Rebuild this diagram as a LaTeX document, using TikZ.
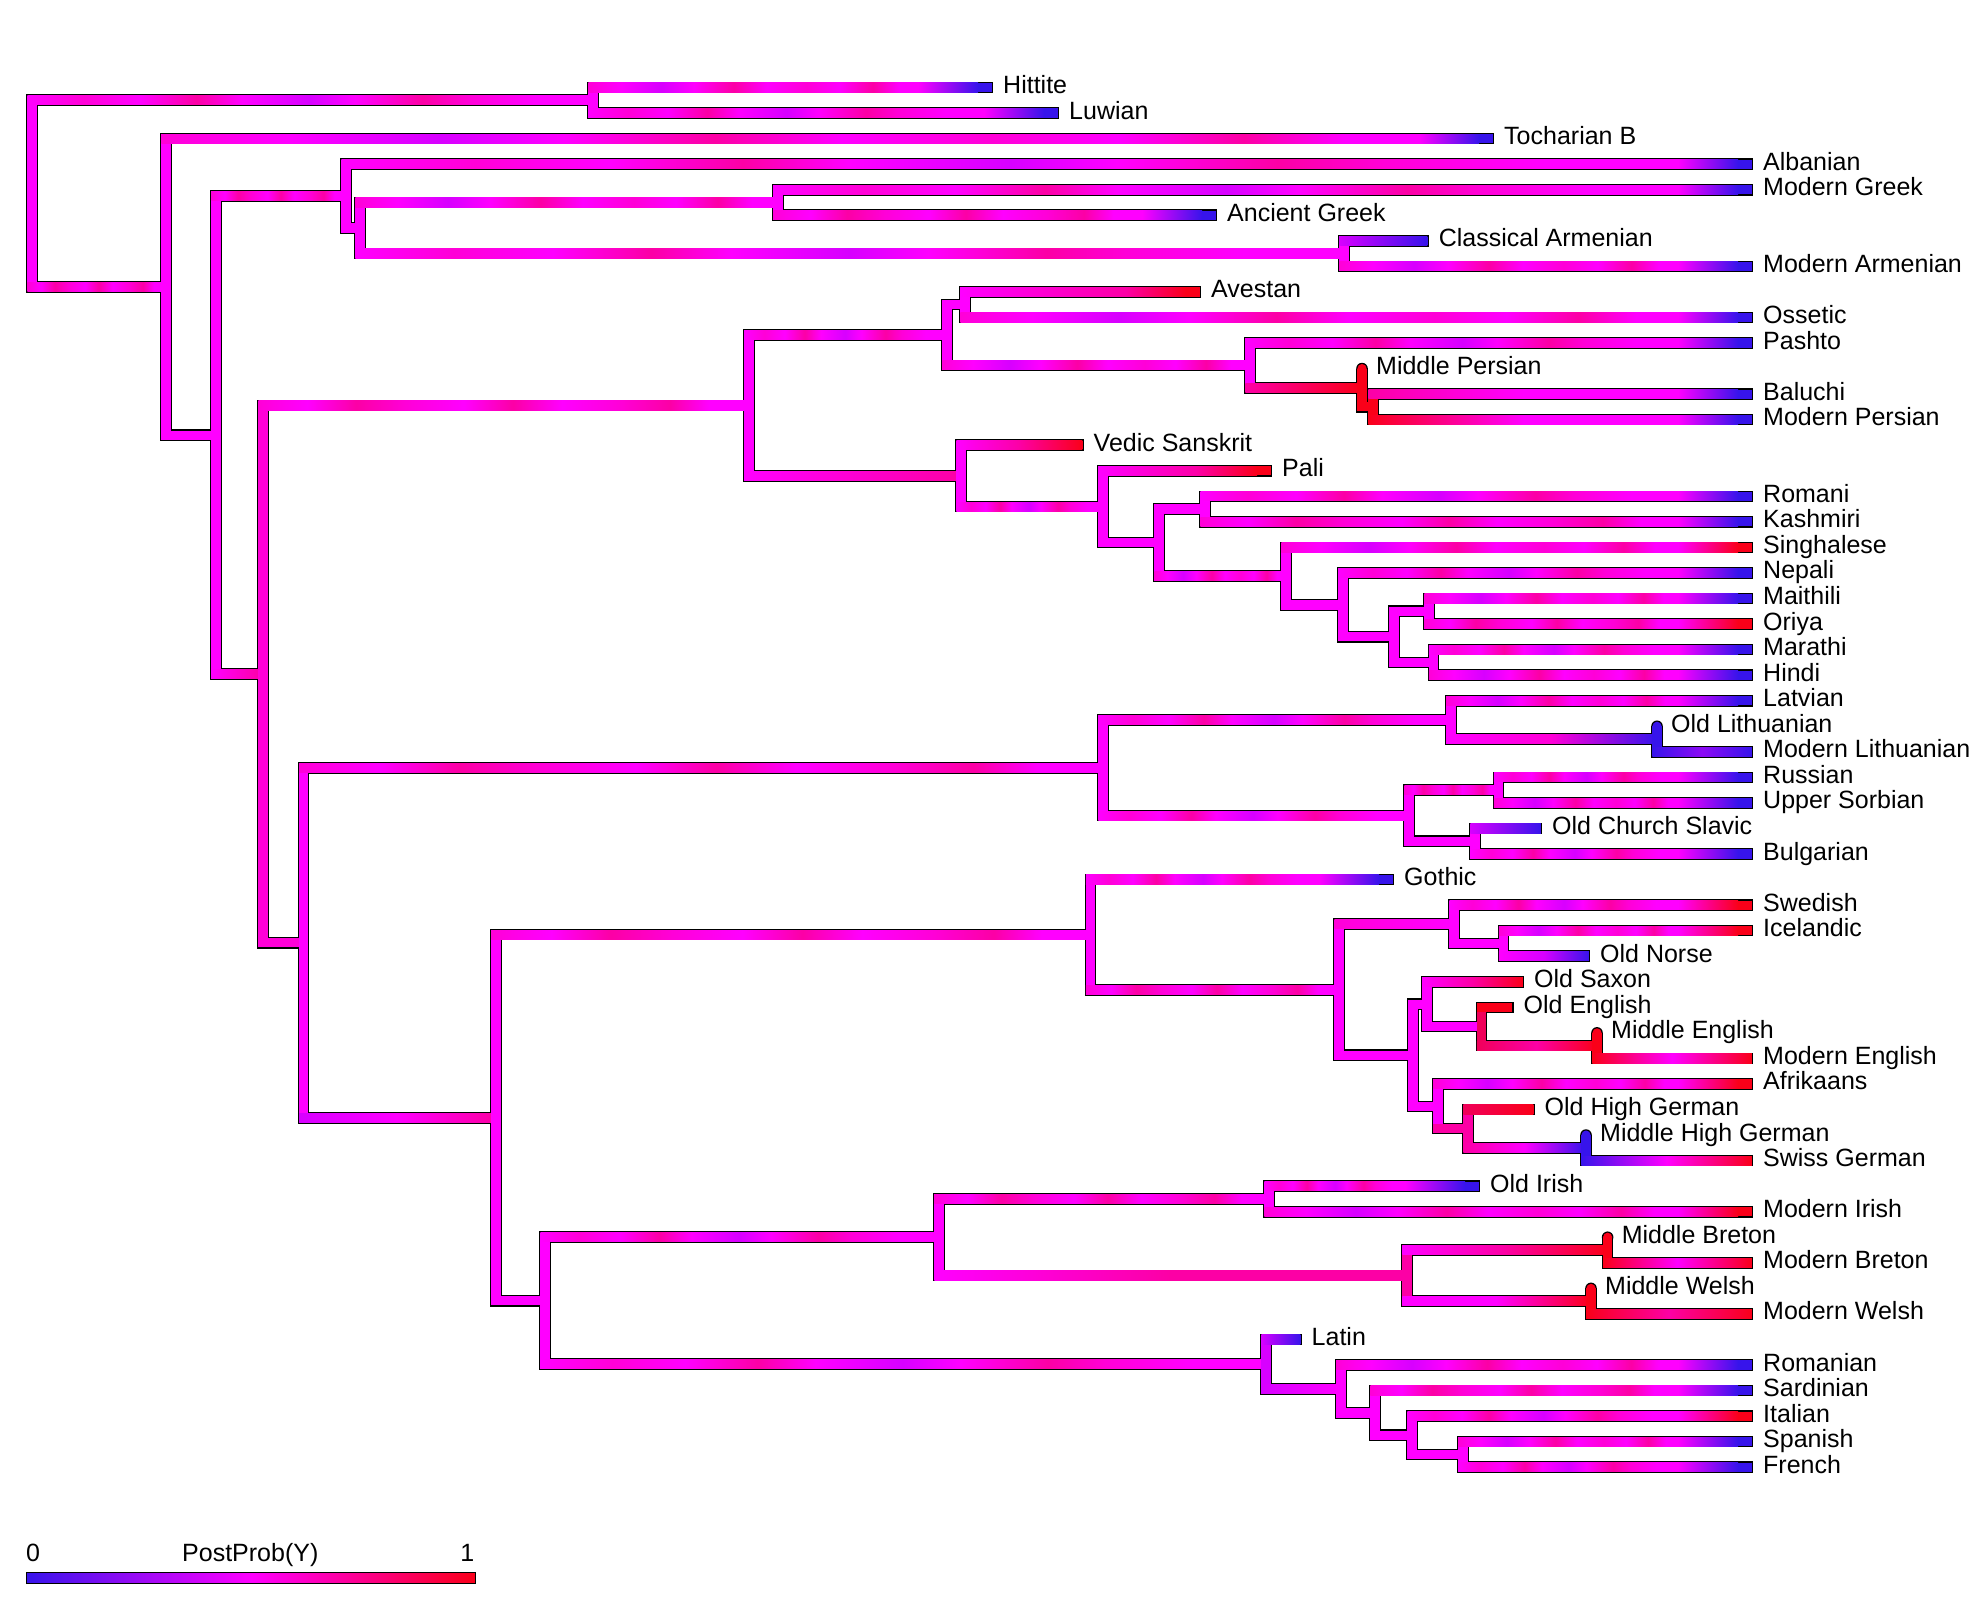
\documentclass[tikz,border=0pt]{standalone}
\usepackage{fontspec}
\setmainfont{Liberation Sans}
\usetikzlibrary{calc}
\pgfdeclarelayer{bg}
\pgfsetlayers{bg,main}
\definecolor{M}{RGB}{255,0,255}
\definecolor{Mp}{RGB}{255,0,215}
\definecolor{P}{RGB}{252,0,165}
\definecolor{V}{RGB}{215,0,255}
\definecolor{Pu}{RGB}{140,10,245}
\definecolor{B}{RGB}{55,20,235}
\definecolor{Rd}{RGB}{250,0,25}
\definecolor{Cr}{RGB}{240,0,90}
\pgfdeclarehorizontalshading{nzA}{100bp}{color(0bp)=(M); color(25bp)=(M); color(30bp)=(Mp); color(35bp)=(M); color(40bp)=(P); color(44bp)=(M); color(50bp)=(V); color(54bp)=(M); color(60bp)=(P); color(64bp)=(Mp); color(70bp)=(M); color(75bp)=(M); color(100bp)=(M)}
\pgfdeclarehorizontalshading{nzB}{100bp}{color(0bp)=(Mp); color(25bp)=(Mp); color(30bp)=(M); color(36bp)=(V); color(41bp)=(M); color(47bp)=(P); color(52bp)=(M); color(58bp)=(Mp); color(63bp)=(M); color(68bp)=(P); color(72bp)=(M); color(75bp)=(M); color(100bp)=(M)}
\pgfdeclarehorizontalshading{nzC}{100bp}{color(0bp)=(Mp); color(25bp)=(Mp); color(30bp)=(M); color(35bp)=(P); color(40bp)=(Mp); color(46bp)=(M); color(51bp)=(P); color(56bp)=(M); color(62bp)=(Mp); color(67bp)=(P); color(71bp)=(M); color(75bp)=(M); color(100bp)=(M)}
\pgfdeclarehorizontalshading{cbar}{100bp}{color(0bp)=(B); color(25bp)=(B); color(50bp)=(M); color(75bp)=(Rd); color(100bp)=(Rd)}
\tikzset{
  sA/.style={shade,shading=nzA},
  sB/.style={shade,shading=nzB},
  sC/.style={shade,shading=nzC},
  lab/.style={anchor=base west,inner sep=0pt,text=black,font=\fontsize{25}{30}\selectfont}
}
% horizontal branch: parent, child, colour options
\newcommand\brH[3]{%
  \begin{pgfonlayer}{bg}\fill[black] ($(#1 |- #2)+(-5.8,-5.8)$) rectangle ($(#2)+(0,5.8)$);\end{pgfonlayer}%
  \path[#3] ($(#1 |- #2)+(-4.6,-4.6)$) rectangle ($(#2)+(-1.2,4.6)$);}
% tip branch with coloured end: parent, tip, body options, mid colour, end colour
\newcommand\brT[5]{%
  \begin{pgfonlayer}{bg}\fill[black] ($(#1 |- #2)+(-5.8,-5.8)$) rectangle ($(#2)+(0,5.8)$);\end{pgfonlayer}%
  \path[#3] ($(#1 |- #2)+(-4.6,-4.6)$) rectangle ($(#2)+(-74,4.6)$);
  \path[shade,left color=#4,right color=#5] ($(#2)+(-75,-4.6)$) rectangle ($(#2)+(-15,4.6)$);
  \fill[#5] ($(#2)+(-15.5,-4.6)$) rectangle ($(#2)+(-1.2,4.6)$);}
% vertical connector: node, top child, bottom child, colour
\newcommand\brV[4]{%
  \begin{pgfonlayer}{bg}\fill[black] ($(#1 |- #2)+(-5.8,-5.8)$) rectangle ($(#1 |- #3)+(5.8,5.8)$);\end{pgfonlayer}%
  \fill[#4] ($(#1 |- #2)+(-4.6,-4.6)$) rectangle ($(#1 |- #3)+(4.6,4.6)$);}
% vertical connector with rounded top (sampled ancestor)
\newcommand\brVR[4]{%
  \begin{pgfonlayer}{bg}\fill[black] (#1 |- #2) circle[radius=5.8pt];
  \fill[black] ($(#1 |- #2)+(-5.8,0)$) rectangle ($(#1 |- #3)+(5.8,5.8)$);\end{pgfonlayer}%
  \fill[#4] (#1 |- #2) circle[radius=4.6pt];
  \fill[#4] ($(#1 |- #2)+(-4.6,0)$) rectangle ($(#1 |- #3)+(4.6,4.6)$);}
\begin{document}
\begin{tikzpicture}[x=1pt,y=-1pt]
\begin{pgfonlayer}{bg}\fill[white] (0,0) rectangle (1972,1607);\end{pgfonlayer}
\useasboundingbox (0,0) rectangle (1972,1607);
% internal nodes and tips: name/x/row
\foreach \nm/\xx/\rr in {root/32/4.151123046875, A/593/0.5, N1/166/7.80224609375, N2/216/13.6044921875,
  N3/346/4.25, N5/360/5.5, G/778/4.5, Arm/1344/6.5, N4/263/22.958984375, II/749/12.4453125,
  Ir/947/9.6875, AO/965/8.5, nP/1250/10.875, MPn/1362/11.75, BMP/1373/12.5, In/961/15.203125,
  N7/1103/16.40625, N8/1159/17.8125, RK/1205/16.5, N9/1286/19.125, N10/1343/20.25, N11/1394/21.5,
  MO/1429/20.5, MH/1433.5/22.5, N6/303.6/33.47265625, BS/1103/26.625, Bal/1451/24.75, Lith/1657/25.5,
  Sl/1409/28.5, RU/1498.5/27.5, OB/1475/29.5, GIC/496/40.3203125, Ge/1090.5/33.15625, NWG/1339/35.3125,
  NG/1454/32.75, IcON/1503.5/33.5, WG/1413/37.875, SE/1427/35.875, Eng/1481.5/36.75, ME/1597/37.5,
  G2/1438/39.875, Ger/1468/40.75, MHG/1586/41.5, IC/545/47.484375, Ce/939/45, Iri/1269/43.5,
  Bry/1407/46.5, Bre/1607.6/45.5, Wel/1591/47.5, It/1266/49.96875, R/1341/50.9375, NSIS/1375/51.875,
  NIS/1412/52.75, SF/1463/53.5,
  Hit/993/0, Luw/1059/1, Toc/1494/2, Alb/1753/3, MGr/1753/4, AGr/1217/5, CArm/1428.6/6, MArm/1753/7,
  Ave/1201/8, Oss/1753/9, Pas/1753/10, MidP/1362/11, Balu/1753/12, MPrs/1753/13, Ved/1083.5/14,
  Pali/1272/15, Rom/1753/16, Kas/1753/17, Sin/1753/18, Nep/1753/19, Mai/1753/20, Ori/1753/21,
  Mar/1753/22, Hin/1753/23, Ltv/1753/24, OLit/1657/25, MLit/1753/26, Rus/1753/27, USo/1753/28,
  OCS/1542/29, Bul/1753/30, Got/1394/31, Swe/1753/32, Ice/1753/33, ONo/1590/34, OSa/1524/35,
  OEn/1513.5/36, MidE/1597/37, ModE/1753/38, Afr/1753/39, OHG/1534.5/40, MHGt/1586/41, Swi/1753/42,
  OIr/1480/43, MIr/1753/44, MBr/1607.6/45, ModBr/1753/46, MWe/1591/47, ModWe/1753/48, Ltn/1301.5/49,
  Rmn/1753/50, Sar/1753/51, Ita/1753/52, Spa/1753/53, Fre/1753/54}
  {\coordinate (\nm) at (\xx,{87.5+25.55*\rr});}
% ---- branches ----
\brV{root}{A}{N1}{M}
\brH{root}{A}{sA}
\brV{A}{Hit}{Luw}{M}
\brT{A}{Hit}{sB}{M}{B}
\brT{A}{Luw}{sA}{M}{B}
\brH{root}{N1}{sC}
\brV{N1}{Toc}{N2}{M}
\brT{N1}{Toc}{sB}{M}{B}
\brH{N1}{N2}{fill=M}
\brV{N2}{N3}{N4}{M}
\brH{N2}{N3}{sC}
\brV{N3}{Alb}{N5}{M}
\brT{N3}{Alb}{sA}{M}{B}
\brH{N3}{N5}{fill=M}
\brV{N5}{G}{Arm}{M}
\brH{N5}{G}{sB}
\brV{G}{MGr}{AGr}{M}
\brT{G}{MGr}{sA}{M}{B}
\brT{G}{AGr}{sC}{M}{B}
\brH{N5}{Arm}{sA}
\brV{Arm}{CArm}{MArm}{M}
\brH{Arm}{CArm}{shade,left color=V,right color=B}
\brT{Arm}{MArm}{sB}{M}{B}
\brH{N2}{N4}{shade,left color=M,right color=P}
\brV{N4}{II}{N6}{Mp}
\brH{N4}{II}{sC}
\brV{II}{Ir}{In}{M}
\brH{II}{Ir}{sA}
\brV{Ir}{AO}{nP}{M}
\brH{Ir}{AO}{fill=M}
\brV{AO}{Ave}{Oss}{M}
\brT{AO}{Ave}{shade,left color=M,right color=P}{P}{Rd}
\brT{AO}{Oss}{sB}{M}{B}
\brH{Ir}{nP}{sB}
\brV{nP}{Pas}{MPn}{M}
\brT{nP}{Pas}{sA}{M}{B}
\brH{nP}{MPn}{shade,left color=P,right color=Rd}
\brVR{MPn}{MidP}{BMP}{Rd}
\brH{MPn}{BMP}{fill=Rd}
\brV{BMP}{Balu}{MPrs}{Rd}
\brT{BMP}{Balu}{shade,left color=P,right color=M,middle color=M}{M}{B}
\brT{BMP}{MPrs}{shade,left color=Rd,right color=M,middle color=M}{M}{B}
\brH{II}{In}{shade,left color=M,right color=P}
\brV{In}{Ved}{N7}{M}
\brH{In}{Ved}{shade,left color=M,right color=Rd,middle color=P}
\brH{In}{N7}{sA}
\brV{N7}{Pali}{N8}{M}
\brT{N7}{Pali}{shade,left color=M,right color=P}{P}{Rd}
\brH{N7}{N8}{fill=M}
\brV{N8}{RK}{N9}{M}
\brH{N8}{RK}{fill=M}
\brV{RK}{Rom}{Kas}{M}
\brT{RK}{Rom}{sA}{M}{B}
\brT{RK}{Kas}{sC}{M}{B}
\brH{N8}{N9}{sB}
\brV{N9}{Sin}{N10}{M}
\brT{N9}{Sin}{sB}{M}{Rd}
\brH{N9}{N10}{fill=M}
\brV{N10}{Nep}{N11}{M}
\brT{N10}{Nep}{sA}{M}{B}
\brH{N10}{N11}{fill=M}
\brV{N11}{MO}{MH}{M}
\brH{N11}{MO}{fill=M}
\brV{MO}{Mai}{Ori}{M}
\brT{MO}{Mai}{sB}{M}{B}
\brT{MO}{Ori}{sC}{M}{Rd}
\brH{N11}{MH}{fill=M}
\brV{MH}{Mar}{Hin}{M}
\brT{MH}{Mar}{sA}{M}{B}
\brT{MH}{Hin}{sB}{M}{B}
\brH{N4}{N6}{fill=Mp}
\brV{N6}{BS}{GIC}{M}
\brH{N6}{BS}{sC}
\brV{BS}{Bal}{Sl}{M}
\brH{BS}{Bal}{sA}
\brV{Bal}{Ltv}{Lith}{M}
\brT{Bal}{Ltv}{sB}{M}{B}
\brH{Bal}{Lith}{shade,left color=M,right color=B,middle color=Mp}
\brVR{Lith}{OLit}{MLit}{B}
\brH{Lith}{MLit}{shade,left color=B,right color=B,middle color=Pu}
\brH{BS}{Sl}{sA}
\brV{Sl}{RU}{OB}{M}
\brH{Sl}{RU}{sC}
\brV{RU}{Rus}{USo}{M}
\brT{RU}{Rus}{sA}{M}{B}
\brT{RU}{USo}{sB}{M}{B}
\brH{Sl}{OB}{fill=M}
\brV{OB}{OCS}{Bul}{M}
\brH{OB}{OCS}{shade,left color=V,right color=B}
\brT{OB}{Bul}{sA}{M}{B}
\brH{N6}{GIC}{shade,left color=V,right color=P,middle color=M}
\brV{GIC}{Ge}{IC}{M}
\brH{GIC}{Ge}{sC}
\brV{Ge}{Got}{NWG}{M}
\brT{Ge}{Got}{sA}{M}{B}
\brH{Ge}{NWG}{sC}
\brV{NWG}{NG}{WG}{M}
\brH{NWG}{NG}{shade,left color=Mp,right color=M}
\brV{NG}{Swe}{IcON}{M}
\brT{NG}{Swe}{sA}{M}{Rd}
\brH{NG}{IcON}{fill=M}
\brV{IcON}{Ice}{ONo}{M}
\brT{IcON}{Ice}{sB}{M}{Rd}
\brH{IcON}{ONo}{shade,left color=M,right color=B,middle color=V}
\brH{NWG}{WG}{fill=M}
\brV{WG}{SE}{G2}{M}
\brH{WG}{SE}{fill=M}
\brV{SE}{OSa}{Eng}{M}
\brH{SE}{OSa}{shade,left color=M,right color=Rd,middle color=P}
\brH{SE}{Eng}{fill=M}
\brV{Eng}{OEn}{ME}{Cr}
\brH{Eng}{OEn}{fill=Rd}
\brH{Eng}{ME}{shade,left color=Cr,right color=Rd,middle color=P}
\brVR{ME}{MidE}{ModE}{Rd}
\brH{ME}{ModE}{shade,left color=Rd,right color=Rd,middle color=M}
\brH{WG}{G2}{fill=M}
\brV{G2}{Afr}{Ger}{M}
\brT{G2}{Afr}{sB}{M}{Rd}
\brH{G2}{Ger}{fill=P}
\brV{Ger}{OHG}{MHG}{P}
\brH{Ger}{OHG}{shade,left color=Cr,right color=Rd}
\brH{Ger}{MHG}{shade,left color=P,right color=B,middle color=M}
\brVR{MHG}{MHGt}{Swi}{B}
\brH{MHG}{Swi}{shade,left color=B,right color=Rd,middle color=M}
\brH{GIC}{IC}{fill=M}
\brV{IC}{Ce}{It}{M}
\brH{IC}{Ce}{sA}
\brV{Ce}{Iri}{Bry}{M}
\brH{Ce}{Iri}{sC}
\brV{Iri}{OIr}{MIr}{M}
\brT{Iri}{OIr}{sA}{M}{B}
\brT{Iri}{MIr}{sB}{M}{Rd}
\brH{Ce}{Bry}{shade,left color=M,right color=P,middle color=P}
\brV{Bry}{Bre}{Wel}{P}
\brH{Bry}{Bre}{shade,left color=M,right color=Rd,middle color=P}
\brVR{Bre}{MBr}{ModBr}{Rd}
\brH{Bre}{ModBr}{shade,left color=Rd,right color=Rd,middle color=M}
\brH{Bry}{Wel}{shade,left color=M,right color=Rd,middle color=M}
\brVR{Wel}{MWe}{ModWe}{Rd}
\brH{Wel}{ModWe}{shade,left color=Rd,right color=Rd,middle color=P}
\brH{IC}{It}{sA}
\brV{It}{Ltn}{R}{V}
\brH{It}{Ltn}{shade,left color=V,right color=B}
\brH{It}{R}{shade,left color=V,right color=M}
\brV{R}{Rmn}{NSIS}{M}
\brT{R}{Rmn}{sB}{M}{B}
\brH{R}{NSIS}{fill=M}
\brV{NSIS}{Sar}{NIS}{M}
\brT{NSIS}{Sar}{sC}{M}{B}
\brH{NSIS}{NIS}{fill=M}
\brV{NIS}{Ita}{SF}{M}
\brT{NIS}{Ita}{sA}{M}{Rd}
\brH{NIS}{SF}{fill=M}
\brV{SF}{Spa}{Fre}{M}
\brT{SF}{Spa}{sB}{M}{B}
\brT{SF}{Fre}{sA}{M}{B}
% ---- labels ----
\foreach \nm/\tx/\dx in {Hit/Hittite/10, Luw/Luwian/10, Toc/Tocharian B/10, Alb/Albanian/10,
  MGr/Modern Greek/10, AGr/Ancient Greek/10, CArm/Classical Armenian/10, MArm/Modern Armenian/10,
  Ave/Avestan/10, Oss/Ossetic/10, Pas/Pashto/10, MidP/Middle Persian/14, Balu/Baluchi/10,
  MPrs/Modern Persian/10, Ved/Vedic Sanskrit/10, Pali/Pali/10, Rom/Romani/10, Kas/Kashmiri/10,
  Sin/Singhalese/10, Nep/Nepali/10, Mai/Maithili/10, Ori/Oriya/10, Mar/Marathi/10, Hin/Hindi/10,
  Ltv/Latvian/10, OLit/Old Lithuanian/14, MLit/Modern Lithuanian/10, Rus/Russian/10,
  USo/Upper Sorbian/10, OCS/Old Church Slavic/10, Bul/Bulgarian/10, Got/Gothic/10, Swe/Swedish/10,
  Ice/Icelandic/10, ONo/Old Norse/10, OSa/Old Saxon/10, OEn/Old English/10, MidE/Middle English/14,
  ModE/Modern English/10, Afr/Afrikaans/10, OHG/Old High German/10, MHGt/Middle High German/14,
  Swi/Swiss German/10, OIr/Old Irish/10, MIr/Modern Irish/10, MBr/Middle Breton/14,
  ModBr/Modern Breton/10, MWe/Middle Welsh/14, ModWe/Modern Welsh/10, Ltn/Latin/10,
  Rmn/Romanian/10, Sar/Sardinian/10, Ita/Italian/10, Spa/Spanish/10, Fre/French/10}
  {\node[lab] (l\nm) at ($(\nm)+(\dx,6)$) {\tx};}
% ---- colour bar ----
\shade[shading=cbar] (26,1572) rectangle (475.6,1583);
\draw[line width=0.9pt] (26,1572) rectangle (475.6,1583);
\node[lab] (cb0) at (26,1561.7) {0};
\node[lab] (cbt) at (182,1561.7) {PostProb(Y)};
\node[lab,anchor=base east] (cb1) at (474.5,1561.7) {1};
\end{tikzpicture}
\end{document}
